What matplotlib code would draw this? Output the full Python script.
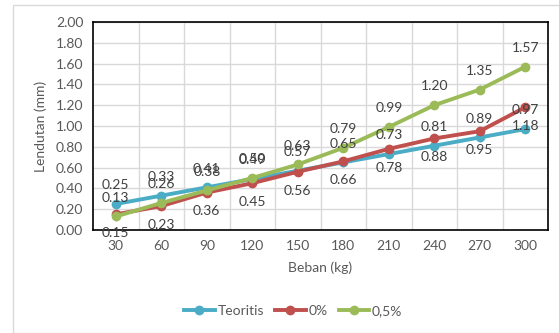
import matplotlib
matplotlib.use("Agg")
import matplotlib.pyplot as plt
from matplotlib.patches import Rectangle
import numpy as np

plt.rcParams['font.family'] = ['Lato', 'DejaVu Sans']

beban = [30, 60, 90, 120, 150, 180, 210, 240, 270, 300]
teoritis = [0.25, 0.33, 0.41, 0.49, 0.57, 0.65, 0.73, 0.81, 0.89, 0.97]
serat_0 = [0.15, 0.23, 0.36, 0.45, 0.56, 0.66, 0.78, 0.88, 0.95, 1.18]
serat_05 = [0.13, 0.26, 0.38, 0.50, 0.63, 0.79, 0.99, 1.20, 1.35, 1.57]
err = 0.04

c_blue = '#4BACC6'
c_red = '#C0504D'
c_green = '#9BBB59'
txt = '#595959'

fig = plt.figure(figsize=(5.59, 3.33), dpi=100)
# chart border
fig.patches.append(Rectangle((13 / 559, 0), 1.2, 1 - 5 / 333, transform=fig.transFigure,
                             fill=False, edgecolor='#D9D9D9', linewidth=1))
ax = fig.add_axes([93 / 559, 1 - 230 / 333, 455 / 559, 208 / 333])

x = np.arange(len(beban))
series = [(teoritis, c_blue, 'Teoritis', 1), (serat_0, c_red, '0%', -1), (serat_05, c_green, '0,5%', 1)]
for vals, col, name, side in series:
    ax.errorbar(x, vals, yerr=err, ecolor='#A6A6A6', elinewidth=1, capsize=0, fmt='none', zorder=2)
    ax.plot(x, vals, color=col, linewidth=2.8, marker='o', markersize=6, label=name, zorder=3)
    for xi, v in zip(x, vals):
        ax.annotate(f'{v:.2f}', (xi, v), xytext=(0, 13.5 * side), textcoords='offset points',
                    ha='center', va='center', fontsize=10, color='#404040', zorder=4)

ax.set_xlim(-0.5, len(beban) - 0.5)
ax.set_ylim(0, 2.0)
ax.set_yticks(np.arange(0, 2.01, 0.2))
ax.set_yticklabels([f'{v:.2f}' for v in np.arange(0, 2.01, 0.2)])
ax.set_xticks(x)
ax.set_xticklabels([str(b) for b in beban])
ax.set_xticks(np.arange(0.5, len(beban) - 0.5, 1), minor=True)
ax.grid(True, which='major', axis='y', color='#D9D9D9', linewidth=1)
ax.grid(True, which='minor', axis='x', color='#D9D9D9', linewidth=1)
ax.set_axisbelow(True)
ax.tick_params(axis='both', which='both', length=0, labelsize=10, colors=txt, pad=7)
for s in ax.spines.values():
    s.set_color('#000000')
    s.set_linewidth(1.2)

ax.set_xlabel('Beban (kg)', fontsize=10, color=txt, labelpad=7)
ax.set_ylabel('Lendutan (mm)', fontsize=10, color=txt, labelpad=6)

ax.legend(loc='center', bbox_to_anchor=(0.44, -0.39), ncol=3, frameon=False,
          fontsize=10, labelcolor=txt, handlelength=2.2, columnspacing=0.8, handletextpad=0.2)

fig.savefig('out.png', dpi=100)
